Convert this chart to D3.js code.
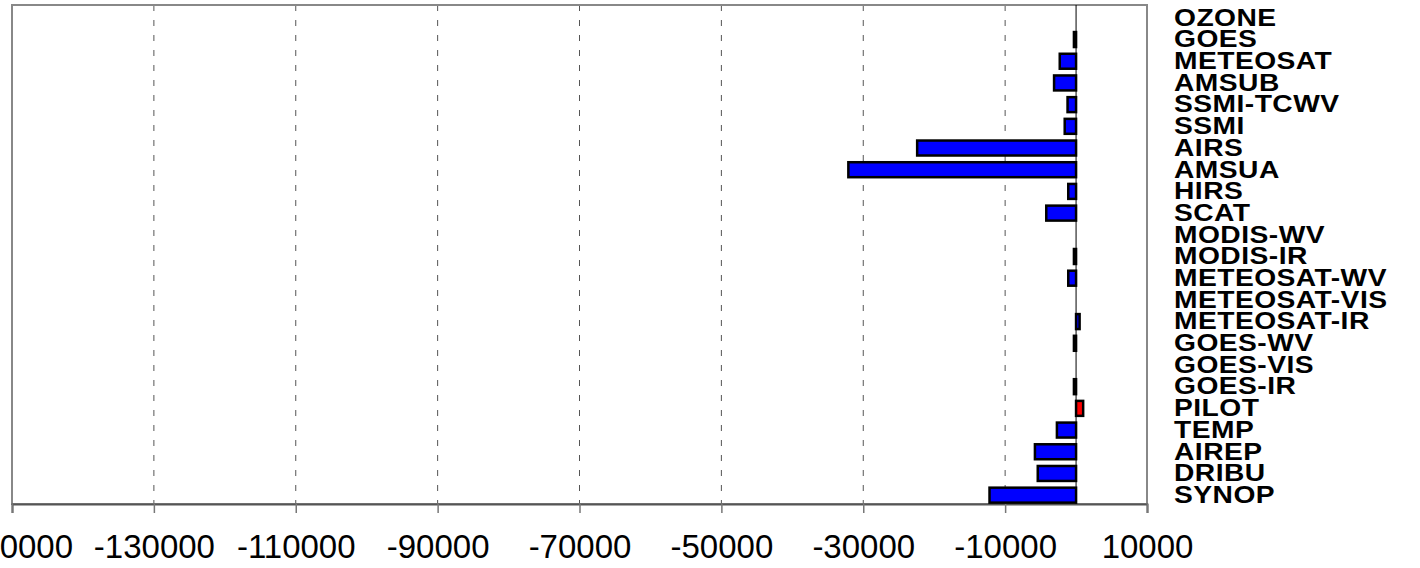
<!DOCTYPE html>
<html>
<head>
<meta charset="utf-8">
<script src="https://cdn.jsdelivr.net/npm/d3@7"></script>
<style>
  html, body { margin: 0; padding: 0; background: #fff; }
  svg { display: block; }
</style>
</head>
<body>
<svg id="chart" width="1420" height="568"></svg>
<script>
// Observation types, top to bottom
const categories = [
  "OZONE", "GOES", "METEOSAT", "AMSUB", "SSMI-TCWV", "SSMI", "AIRS", "AMSUA",
  "HIRS", "SCAT", "MODIS-WV", "MODIS-IR", "METEOSAT-WV", "METEOSAT-VIS",
  "METEOSAT-IR", "GOES-WV", "GOES-VIS", "GOES-IR", "PILOT", "TEMP", "AIREP",
  "DRIBU", "SYNOP"
];
// Impact per observation type
const values = [
  0, -300, -2300, -3100, -1200, -1600, -22400, -32100,
  -1100, -4200, 0, -300, -1100, 0,
  500, -300, 0, -300, 1000, -2700, -5800,
  -5400, -12200
];
const tickValues = [-150000, -130000, -110000, -90000, -70000, -50000, -30000, -10000, 10000];

const svg = d3.select("#chart");
const plotLeft = 12, plotRight = 1147, plotTop = 5, plotBottom = 504;
const labelStretch = 1.2;

const x = d3.scaleLinear().domain([-150000, 10000]).range([plotLeft, plotRight]);
const y = d3.scaleBand().domain(categories).range([plotTop + 2, plotBottom + 2]).padding(0);
const barH = y.bandwidth() * 0.69;

// dashed vertical gridlines
svg.append("g").selectAll("line")
  .data(tickValues.slice(1, -1))
  .join("line")
  .attr("x1", d => x(d)).attr("x2", d => x(d))
  .attr("y1", plotTop).attr("y2", plotBottom)
  .attr("stroke", "#555").attr("stroke-width", 1)
  .attr("stroke-dasharray", "6,9");

// plot frame
svg.append("rect")
  .attr("x", plotLeft).attr("y", plotTop)
  .attr("width", plotRight - plotLeft).attr("height", plotBottom - plotTop)
  .attr("fill", "none").attr("stroke", "#888").attr("stroke-width", 2);

// bottom axis
const axis = svg.append("g").attr("transform", `translate(0,${plotBottom})`)
  .call(d3.axisBottom(x).tickValues(tickValues).tickSize(9).tickFormat(d => String(d)));
axis.select(".domain").attr("stroke", "#555").attr("stroke-width", 2);
axis.selectAll(".tick line").attr("stroke", "#777").attr("stroke-width", 1.5);
axis.selectAll(".tick text")
  .attr("y", 54).attr("dy", null)
  .attr("fill", "#000")
  .style("font-family", "'Liberation Sans', Arial, sans-serif")
  .style("font-size", "33px");

// bars
svg.append("g").selectAll("rect")
  .data(categories.map((c, i) => ({ c, v: values[i] })).filter(d => d.v !== 0))
  .join("rect")
  .attr("x", d => Math.min(x(0), x(d.v)))
  .attr("y", d => y(d.c) + (y.bandwidth() - barH) / 2)
  .attr("width", d => Math.abs(x(d.v) - x(0)))
  .attr("height", barH)
  .attr("fill", d => d.v > 0 && d.c === "PILOT" ? "#ff0000" : "#0000ff")
  .attr("stroke", "#000").attr("stroke-width", 2.5);

// zero line
svg.append("line")
  .attr("x1", x(0)).attr("x2", x(0))
  .attr("y1", plotTop).attr("y2", plotBottom)
  .attr("stroke", "#000").attr("stroke-width", 1);

// category labels on the right
svg.append("g").selectAll("text")
  .data(categories)
  .join("text")
  .attr("transform", d => `translate(1174,${y(d) + y.bandwidth() / 2 + 7.8}) scale(${labelStretch},1)`)
  .attr("fill", "#000")
  .style("font-family", "'Liberation Sans', Arial, sans-serif")
  .style("font-weight", "bold")
  .style("font-size", "23.5px")
  .style("letter-spacing", "0.4px")
  .text(d => d);
</script>
</body>
</html>
